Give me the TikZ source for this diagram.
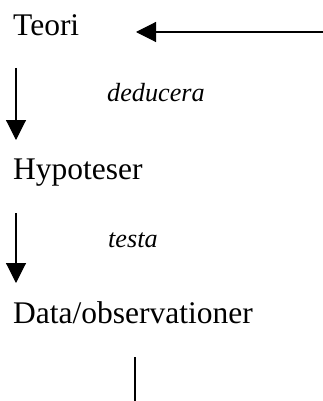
\documentclass[tikz,border=0pt]{standalone}
\usepackage{fontspec}
\setmainfont{Liberation Serif}
\usetikzlibrary{arrows.meta}

\tikzset{
  label/.style={anchor=base west, inner sep=0pt, font=\fontsize{31.5}{38}\selectfont},
  verb/.style={anchor=base west, inner sep=0pt, font=\fontsize{26.2}{32}\selectfont\itshape},
  pil/.style={line width=1.1pt, -{Triangle[length=20pt,width=20pt]}}
}

\begin{document}
\begin{tikzpicture}[x=1pt,y=-1pt]
			\useasboundingbox (0,0) rectangle (323,401);
			\node[label] (teori) at (13,36) {Teori};
			\node[label] (hyp) at (13,179) {Hypoteser};
			\node[label] (data) at (13,323) {Data/observationer};
			\node[verb] (ded) at (107,102) {deducera};
			\node[verb] (test) at (108,247) {testa};
			\coordinate (in) at (323,32);
			\coordinate (intip) at (136,32);
			\coordinate (t1) at (16,68);
			\coordinate (h1) at (16,140);
			\coordinate (t2) at (16,213);
			\coordinate (h2) at (16,283);
			\coordinate (ut1) at (135,357);
			\coordinate (ut2) at (135,401);
			\draw[pil] (in) -- (intip);
			\draw[pil] (t1) -- (h1);
			\draw[pil] (t2) -- (h2);
			\draw[line width=1.1pt] (ut1) -- (ut2);
		\end{tikzpicture}
\end{document}
